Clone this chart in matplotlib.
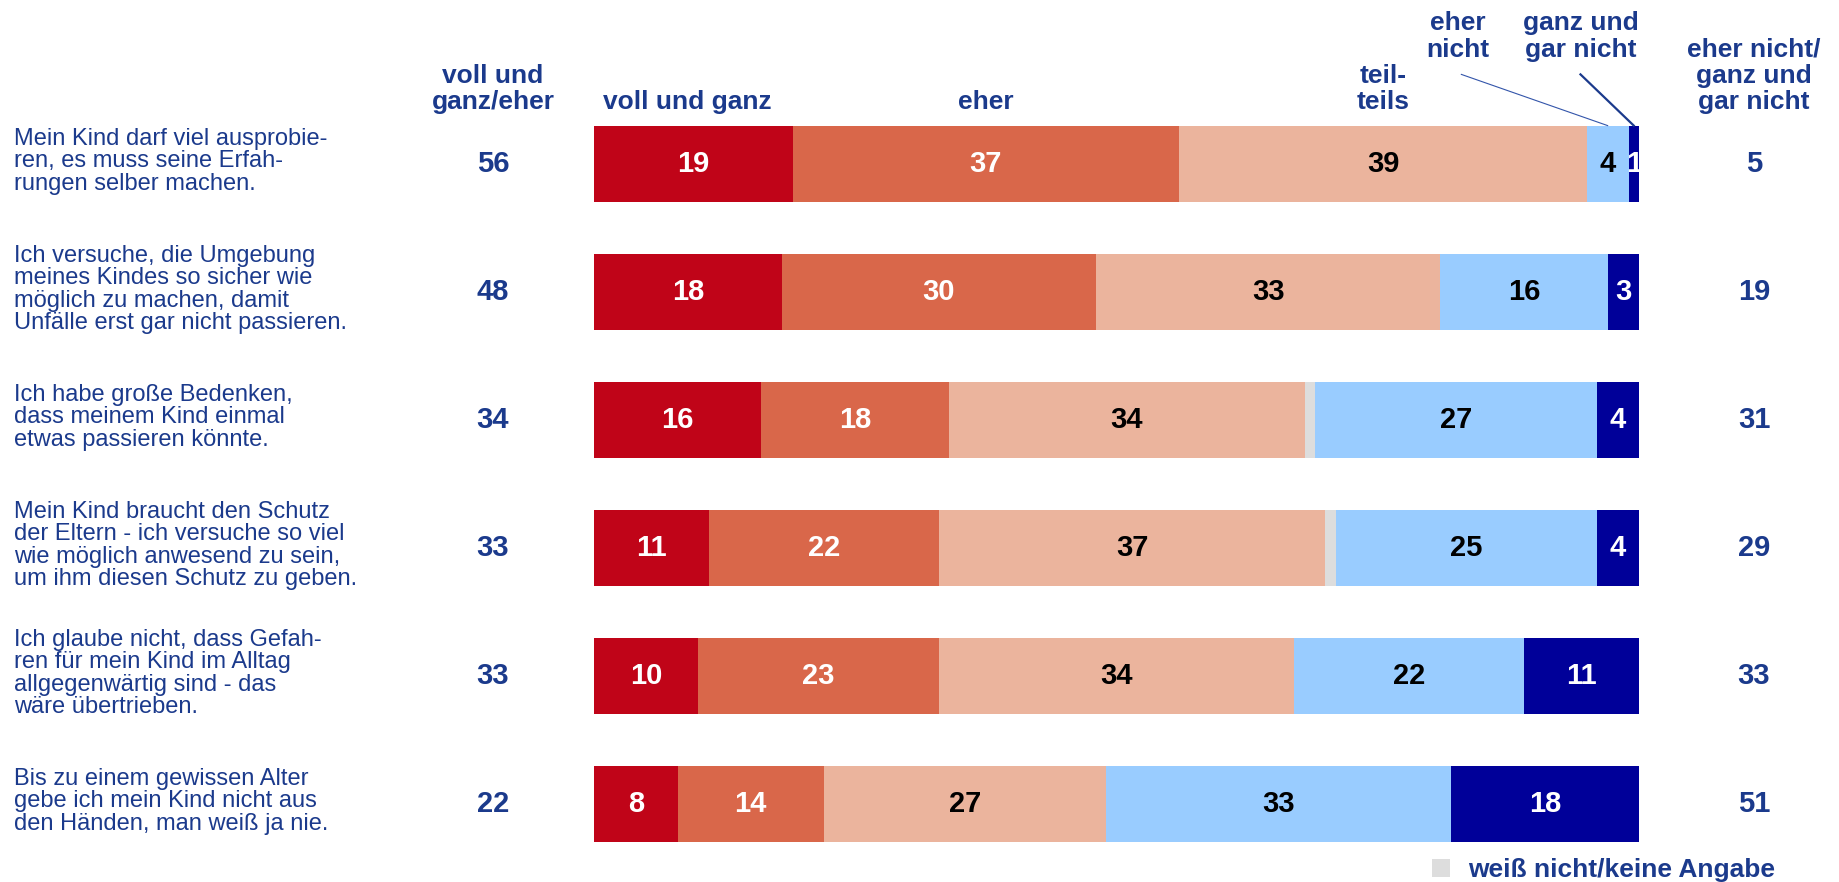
import matplotlib
matplotlib.use("Agg")
import matplotlib.pyplot as plt
import numpy as np

plt.rcParams["font.family"] = ["Liberation Sans", "DejaVu Sans"]

NAVY = "#1b3a8c"

statements = [
    "Mein Kind darf viel ausprobie-\nren, es muss seine Erfah-\nrungen selber machen.",
    "Ich versuche, die Umgebung\nmeines Kindes so sicher wie\nmöglich zu machen, damit\nUnfälle erst gar nicht passieren.",
    "Ich habe große Bedenken,\ndass meinem Kind einmal\netwas passieren könnte.",
    "Mein Kind braucht den Schutz\nder Eltern - ich versuche so viel\nwie möglich anwesend zu sein,\num ihm diesen Schutz zu geben.",
    "Ich glaube nicht, dass Gefah-\nren für mein Kind im Alltag\nallgegenwärtig sind - das\nwäre übertrieben.",
    "Bis zu einem gewissen Alter\ngebe ich mein Kind nicht aus\nden Händen, man weiß ja nie.",
]

voll_und_ganz = [19, 18, 16, 11, 10, 8]
eher = [37, 30, 18, 22, 23, 14]
teils = [39, 33, 34, 37, 34, 27]
weiss_nicht = [0, 0, 1, 1, 0, 0]
eher_nicht = [4, 16, 27, 25, 22, 33]
gar_nicht = [1, 3, 4, 4, 11, 18]

zustimmung = [56, 48, 34, 33, 33, 22]
ablehnung = [5, 19, 31, 29, 33, 51]

segments = [
    ("voll und ganz", voll_und_ganz, "#c00418", "white"),
    ("eher", eher, "#d9674a", "white"),
    ("teils", teils, "#ebb49d", "black"),
    ("weiß nicht/keine Angabe", weiss_nicht, "#dddddd", None),
    ("eher nicht", eher_nicht, "#99ccff", "black"),
    ("ganz und gar nicht", gar_nicht, "#000099", "white"),
]

W, H = 1840, 882
fig = plt.figure(figsize=(W / 100, H / 100), dpi=100)
ax = fig.add_axes([0, 0, 1, 1])

# pixel mapping: 0% at x=594px, 100% at x=1639px; rows centred at 164px, pitch 128px
px_per_unit = (1639 - 594) / 100
ax.set_xlim(-594 / px_per_unit, (W - 594) / px_per_unit)
ax.set_ylim((H - 164) / 128, -164 / 128)
ax.axis("off")

y = np.arange(len(statements))
left = np.zeros(len(statements))
handles = {}
for name, vals, color, tcolor in segments:
    vals = np.array(vals, dtype=float)
    bars = ax.barh(y, vals, left=left, height=0.6, color=color, label=name)
    handles[name] = bars
    if tcolor:
        for yi, l, v in zip(y, left, vals):
            if v > 0:
                ax.text(l + v / 2, yi, f"{int(v)}", ha="center", va="center",
                        color=tcolor, fontsize=21, fontweight="bold")
    left += vals

x_label = (14 - 594) / px_per_unit
x_zust = (493 - 594) / px_per_unit
x_abl = (1754 - 594) / px_per_unit

for yi, s, a, b in zip(y, statements, zustimmung, ablehnung):
    ax.text(x_label, yi - 0.02, s, ha="left", va="center", color=NAVY,
            fontsize=17, linespacing=1.02)
    ax.text(x_zust, yi, str(a), ha="center", va="center", color=NAVY,
            fontsize=21, fontweight="bold")
    ax.text(x_abl, yi, str(b), ha="center", va="center", color=NAVY,
            fontsize=21, fontweight="bold")

hdr = dict(ha="center", va="bottom", color=NAVY, fontsize=19,
           fontweight="bold", linespacing=1.13)
y_hdr = -0.39
ax.text(x_zust, y_hdr, "voll und\nganz/eher", **hdr)
ax.text(voll_und_ganz[0] / 2 - 0.6, y_hdr, "voll und ganz", **hdr)
ax.text(voll_und_ganz[0] + eher[0] / 2, y_hdr, "eher", **hdr)
ax.text(voll_und_ganz[0] + eher[0] + teils[0] / 2, y_hdr, "teil-\nteils", **hdr)
ax.text(x_abl, y_hdr, "eher nicht/\nganz und\ngar nicht", **hdr)

y_top = -0.80
ax.text(82.7, y_top, "eher\nnicht", **hdr)
ax.text(94.4, y_top, "ganz und\ngar nicht", **hdr)

# leader lines to the small segments of the first row
x_en = voll_und_ganz[0] + eher[0] + teils[0] + eher_nicht[0] / 2
x_gn = 100 - gar_nicht[0] / 2
ax.plot([83.0, x_en], [-0.70, -0.30], color="#3355aa", lw=0.8)
ax.plot([94.4, x_gn], [-0.70, -0.30], color=NAVY, lw=1.6)

leg = fig.legend(handles=[handles["weiß nicht/keine Angabe"]],
                 loc="center left", bbox_to_anchor=(1432 / W, 1 - 870 / H),
                 frameon=False, handlelength=0.68, handleheight=0.68,
                 handletextpad=0.68, borderaxespad=0, borderpad=0,
                 prop={"size": 19, "weight": "bold"})
for t in leg.get_texts():
    t.set_color(NAVY)

fig.savefig("out.png", dpi=100)
